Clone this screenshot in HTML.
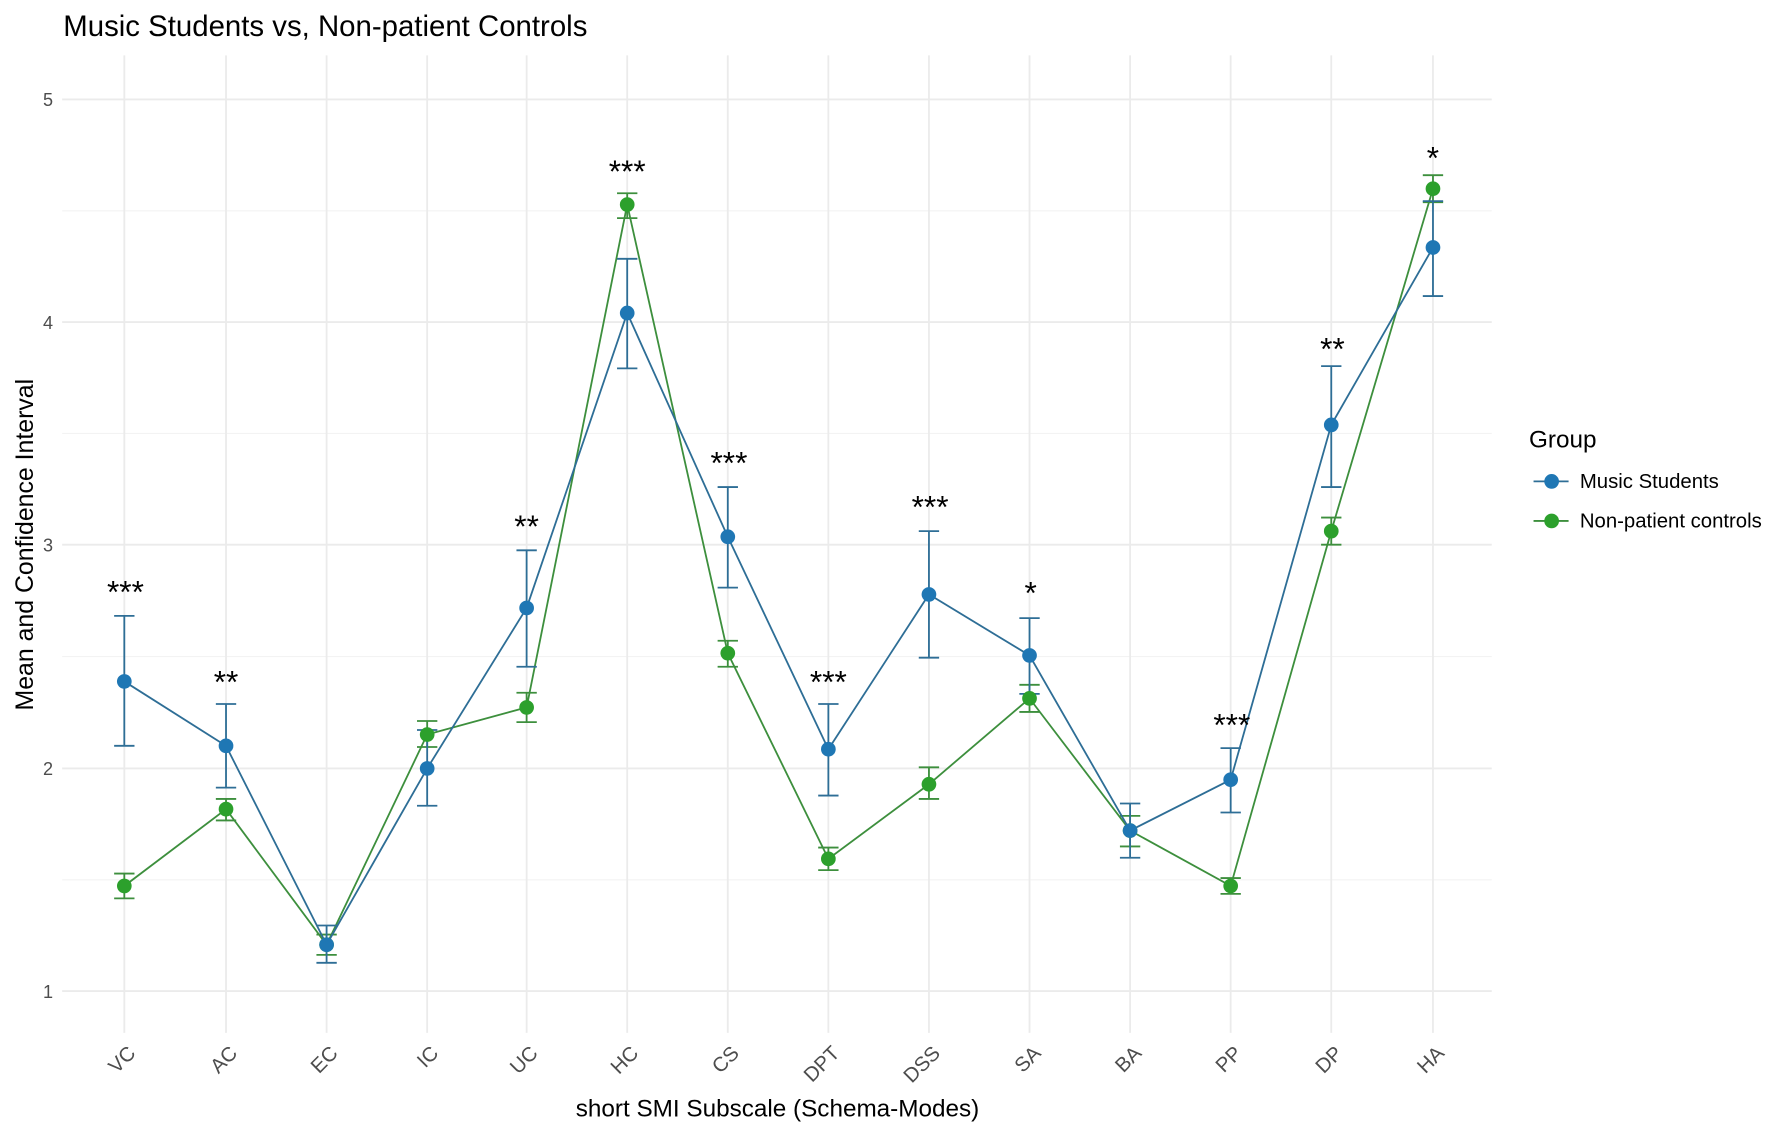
<!DOCTYPE html>
<html><head><style>html,body{margin:0;padding:0;background:#fff}svg{display:block}</style></head>
<body>
<svg width="1772" height="1133" viewBox="0 0 1568 1002.6" preserveAspectRatio="none" xmlns="http://www.w3.org/2000/svg" font-family="Liberation Sans, Arial, sans-serif">
<rect width="1568" height="1003" fill="#fff"/>
<g stroke="#ebebeb" stroke-width="1.6">
<line x1="55" x2="1320" y1="88" y2="88"/><line x1="55" x2="1320" y1="285" y2="285"/><line x1="55" x2="1320" y1="482" y2="482"/><line x1="55" x2="1320" y1="680" y2="680"/><line x1="55" x2="1320" y1="877" y2="877"/>
</g>
<g stroke="#f3f3f3" stroke-width="1">
<line x1="55" x2="1320" y1="186.5" y2="186.5"/><line x1="55" x2="1320" y1="383.5" y2="383.5"/><line x1="55" x2="1320" y1="581" y2="581"/><line x1="55" x2="1320" y1="778.5" y2="778.5"/>
</g>
<g stroke="#ebebeb" stroke-width="1.6">
<line x1="110" x2="110" y1="49" y2="914"/><line x1="200" x2="200" y1="49" y2="914"/><line x1="289" x2="289" y1="49" y2="914"/><line x1="378" x2="378" y1="49" y2="914"/><line x1="466" x2="466" y1="49" y2="914"/><line x1="555" x2="555" y1="49" y2="914"/><line x1="644" x2="644" y1="49" y2="914"/><line x1="733" x2="733" y1="49" y2="914"/><line x1="822" x2="822" y1="49" y2="914"/><line x1="911" x2="911" y1="49" y2="914"/><line x1="1000" x2="1000" y1="49" y2="914"/><line x1="1089" x2="1089" y1="49" y2="914"/><line x1="1178" x2="1178" y1="49" y2="914"/><line x1="1268" x2="1268" y1="49" y2="914"/>
</g>
<g stroke="#3d8f3d" stroke-width="1.6" fill="none">
<polyline points="110,784 200,716 289,836 378,650 466,626 555,181 644,578 733,760 822,694 911,618 1000,735 1089,784 1178,470 1268,167"/>
<path d="M110 773V795M101 773H119M101 795H119 M200 707V726M191 707H209M191 726H209 M289 827V845M280 827H298M280 845H298 M378 638V661M369 638H387M369 661H387 M466 613V639M457 613H475M457 639H475 M555 171V193M546 171H564M546 193H564 M644 567V590M635 567H653M635 590H653 M733 750V770M724 750H742M724 770H742 M822 679V707M813 679H831M813 707H831 M911 606V630M902 606H920M902 630H920 M1000 722V749M991 722H1009M991 749H1009 M1089 777V791M1080 777H1098M1080 791H1098 M1178 458V482M1169 458H1187M1169 482H1187 M1268 155V179M1259 155H1277M1259 179H1277"/>
</g>
<g stroke="#2e6e96" stroke-width="1.6" fill="none">
<polyline points="110,603 200,660 289,836 378,680 466,538 555,277 644,475 733,663 822,526 911,580 1000,735 1089,690 1178,376 1268,219"/>
<path d="M110 545V660M101 545H119M101 660H119 M200 623V697M191 623H209M191 697H209 M289 819V852M280 819H298M280 852H298 M378 646V713M369 646H387M369 713H387 M466 487V590M457 487H475M457 590H475 M555 229V326M546 229H564M546 326H564 M644 431V520M635 431H653M635 520H653 M733 623V704M724 623H742M724 704H742 M822 470V582M813 470H831M813 582H831 M911 547V614M902 547H920M902 614H920 M1000 711V759M991 711H1009M991 759H1009 M1089 662V719M1080 662H1098M1080 719H1098 M1178 324V431M1169 324H1187M1169 431H1187 M1268 178V262M1259 178H1277M1259 262H1277"/>
</g>
<g fill="#2ca02c">
<circle cx="110" cy="784" r="6.5"/><circle cx="200" cy="716" r="6.5"/><circle cx="289" cy="836" r="6.5"/><circle cx="378" cy="650" r="6.5"/><circle cx="466" cy="626" r="6.5"/><circle cx="555" cy="181" r="6.5"/><circle cx="644" cy="578" r="6.5"/><circle cx="733" cy="760" r="6.5"/><circle cx="822" cy="694" r="6.5"/><circle cx="911" cy="618" r="6.5"/><circle cx="1000" cy="735" r="6.5"/><circle cx="1089" cy="784" r="6.5"/><circle cx="1178" cy="470" r="6.5"/><circle cx="1268" cy="167" r="6.5"/>
</g>
<g fill="#1f77b4">
<circle cx="110" cy="603" r="6.5"/><circle cx="200" cy="660" r="6.5"/><circle cx="289" cy="836" r="6.5"/><circle cx="378" cy="680" r="6.5"/><circle cx="466" cy="538" r="6.5"/><circle cx="555" cy="277" r="6.5"/><circle cx="644" cy="475" r="6.5"/><circle cx="733" cy="663" r="6.5"/><circle cx="822" cy="526" r="6.5"/><circle cx="911" cy="580" r="6.5"/><circle cx="1000" cy="735" r="6.5"/><circle cx="1089" cy="690" r="6.5"/><circle cx="1178" cy="376" r="6.5"/><circle cx="1268" cy="219" r="6.5"/>
</g>
<g font-size="28" fill="#000" text-anchor="middle">
<text x="111" y="533">***</text><text x="200" y="613">**</text><text x="466" y="475">**</text><text x="555" y="161">***</text><text x="645" y="419">***</text><text x="733" y="613">***</text><text x="823" y="458">***</text><text x="912" y="534">*</text><text x="1090" y="651">***</text><text x="1179" y="318">**</text><text x="1268" y="149">*</text>
</g>
<g font-size="16" fill="#4d4d4d" text-anchor="end">
<text x="47" y="94">5</text><text x="47" y="291">4</text><text x="47" y="488">3</text><text x="47" y="686">2</text><text x="47" y="883">1</text>
</g>
<g font-size="18" fill="#4d4d4d" text-anchor="end">
<text transform="translate(121,933) rotate(-45)">VC</text>
<text transform="translate(211,933) rotate(-45)">AC</text>
<text transform="translate(300,933) rotate(-45)">EC</text>
<text transform="translate(389,933) rotate(-45)">IC</text>
<text transform="translate(477,933) rotate(-45)">UC</text>
<text transform="translate(566,933) rotate(-45)">HC</text>
<text transform="translate(655,933) rotate(-45)">CS</text>
<text transform="translate(744,933) rotate(-45)">DPT</text>
<text transform="translate(833,933) rotate(-45)">DSS</text>
<text transform="translate(922,933) rotate(-45)">SA</text>
<text transform="translate(1011,933) rotate(-45)">BA</text>
<text transform="translate(1100,933) rotate(-45)">PP</text>
<text transform="translate(1189,933) rotate(-45)">DP</text>
<text transform="translate(1279,933) rotate(-45)">HA</text>
</g>
<text x="688" y="988" font-size="21.5" text-anchor="middle" fill="#000">short SMI Subscale (Schema-Modes)</text>
<text transform="translate(29,482) rotate(-90)" font-size="22" text-anchor="middle" fill="#000">Mean and Confidence Interval</text>
<text x="56" y="32" font-size="26" fill="#000">Music Students vs, Non-patient Controls</text>
<text x="1353" y="396" font-size="21.5" fill="#000">Group</text>
<line x1="1357" x2="1388" y1="426" y2="426" stroke="#2e6e96" stroke-width="1.6"/><circle cx="1373" cy="426" r="6.5" fill="#1f77b4"/>
<text x="1398" y="432" font-size="18" fill="#000">Music Students</text>
<line x1="1357" x2="1388" y1="461" y2="461" stroke="#3d8f3d" stroke-width="1.6"/><circle cx="1373" cy="461" r="6.5" fill="#2ca02c"/>
<text x="1398" y="467" font-size="18" fill="#000">Non-patient controls</text>
</svg>
</body></html>
